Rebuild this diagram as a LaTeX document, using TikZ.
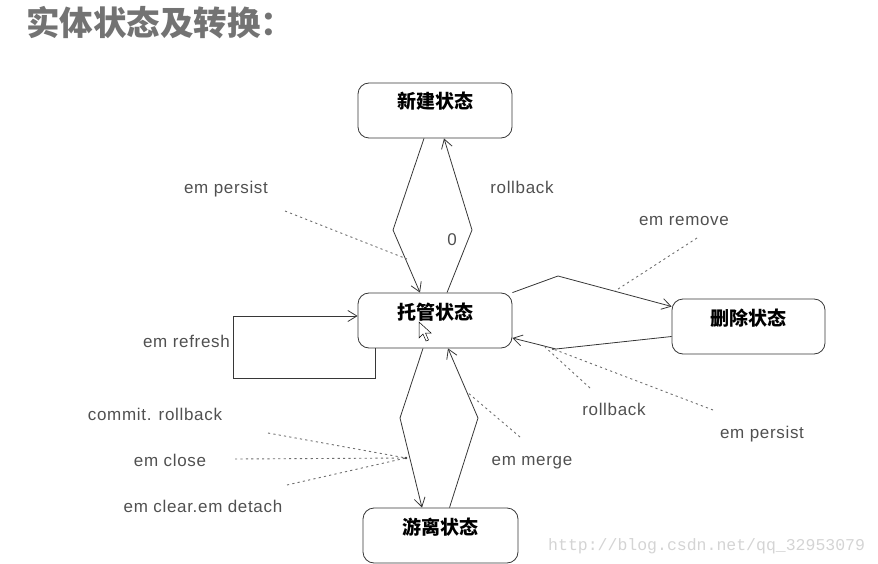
\documentclass[tikz,border=0pt]{standalone}
\usepackage{fontspec}
\setmainfont{Liberation Sans}
\setmonofont{Liberation Mono}
\newfontfamily\cjk{Noto Sans CJK SC}
\newfontfamily\lblfont[LetterSpace=4]{Liberation Sans}
\usepackage{tikz}
\usetikzlibrary{
  arrows.meta,
  positioning
}
\usepackage{xcolor}
\definecolor{linegray}{RGB}{55,55,55}
\definecolor{textgray}{RGB}{80,80,80}
\definecolor{dotgray}{RGB}{110,110,110}
\definecolor{titlegray}{RGB}{115,115,115}
\definecolor{markgray}{RGB}{212,212,212}

\begin{document}
\begin{tikzpicture}[x=1pt,y=-1pt,
  state/.style={draw=linegray, line width=0.8pt, rounded corners=11pt,
    minimum width=154pt, minimum height=55pt, inner sep=0pt,
    text height=14pt, text depth=17pt,
    font=\cjk\bfseries\fontsize{19}{19}\selectfont},
  trans/.style={draw=linegray, line width=0.8pt,
    -{Straight Barb[length=9pt,width=11pt]}},
  hint/.style={draw=dotgray, line width=0.9pt, dash pattern=on 2.2pt off 3.2pt},
  lbl/.style={text=textgray, inner sep=0pt, font=\lblfont\fontsize{17}{17}\selectfont}]
  \useasboundingbox (0,0) rectangle (878,564);

  % title and watermark
  \node[anchor=base west, inner sep=0pt, text=titlegray,
    font=\cjk\bfseries\fontsize{33.5}{33.5}\selectfont] (title) at (26,36) {实体状态及转换：};
  \node[anchor=base west, inner sep=0pt, text=markgray,
    font=\ttfamily\fontsize{16.5}{16.5}\selectfont] (mark) at (548,550) {http://blog.csdn.net/qq\_32953079};

  % states
  \node[state] (newstate) at (435,110.5) {新建状态};
  \node[state] (managed)  at (435,320.5) {托管状态};
  \node[state, minimum width=153pt] (removed) at (748.5,326.5) {删除状态};
  \node[state, minimum width=155pt] (detached) at (440.5,535.5) {游离状态};

  % bends of the transitions
  \coordinate (pv1) at (393,230);
  \coordinate (pv2) at (472,230);
  \coordinate (rv1) at (558,276);
  \coordinate (rv2) at (556,349);
  \coordinate (dv1) at (400,418);
  \coordinate (dv2) at (478,418);
  \coordinate (loopc) at (233,378);

  \draw[trans] ([xshift=-11pt]newstate.south) -- (pv1) -- ([xshift=-15pt]managed.north);
  \draw[trans] ([xshift=12pt]managed.north) -- (pv2) -- ([xshift=9pt]newstate.south);
  \draw[trans] (managed.north east) -- (rv1) -- ([yshift=20pt]removed.west);
  \draw[trans] ([yshift=-10pt]removed.west) -- (rv2) -- ([yshift=-17.5pt]managed.east);
  \draw[trans] ([xshift=-12pt]managed.south) -- (dv1) -- ([xshift=-18.5pt]detached.north);
  \draw[trans] ([xshift=9pt]detached.north) -- (dv2) -- ([xshift=13pt]managed.south);
  \draw[trans] ([xshift=-60pt]managed.south) |- (loopc) |- ([yshift=4.5pt]managed.west);

  % labels
  \node[lbl] (persistA) at (226,189) {em persist};
  \node[lbl] (rollbackA) at (522,187) {rollback};
  \node[lbl] (zero) at (452,240) {0};
  \node[lbl] (remove) at (684,221) {em remove};
  \node[lbl, anchor=east] (refresh) at (230,341) {em refresh};
  \node[lbl] (rollbackB) at (614,409) {rollback};
  \node[lbl] (persistB) at (762,434) {em persist};
  \node[lbl] (merge) at (532,463) {em merge};
  \node[lbl] (commit) at (155,414) {commit. rollback};
  \node[lbl] (close) at (170,460) {em close};
  \node[lbl] (clear) at (203,506) {em clear.em detach};

  % dotted hints
  \coordinate (hp1) at (285,211);  \coordinate (hq1) at (407,259);
  \coordinate (hp2) at (697,238);  \coordinate (hq2) at (615,291);
  \coordinate (hp3) at (590,388);  \coordinate (hq3) at (545,347);
  \coordinate (hp4) at (713,410);  \coordinate (hq4) at (553,349);
  \coordinate (hp5) at (520,437);  \coordinate (hq5) at (467,392);
  \coordinate (jn) at (406,458);
  \coordinate (hc1) at (268,433);
  \coordinate (hc2) at (235,459);
  \coordinate (hc3) at (287,485);

  \foreach \a/\b in {hp1/hq1, hp2/hq2, hp3/hq3, hp4/hq4, hp5/hq5}
    \draw[hint] (\a) -- (\b);
  \foreach \c in {hc1,hc2,hc3}
    \draw[hint] (\c) -- (jn);
  \fill[linegray] (jn) circle (1.4pt);
  \fill[linegray] (hq4) circle (1.2pt);

  % mouse pointer
  \draw[black, line width=0.5pt, fill=white] (419,322) -- (419,338) -- (423,334)
    -- (426,341) -- (428.5,340) -- (425.5,333) -- (431,333) -- cycle;
\end{tikzpicture}
\end{document}
